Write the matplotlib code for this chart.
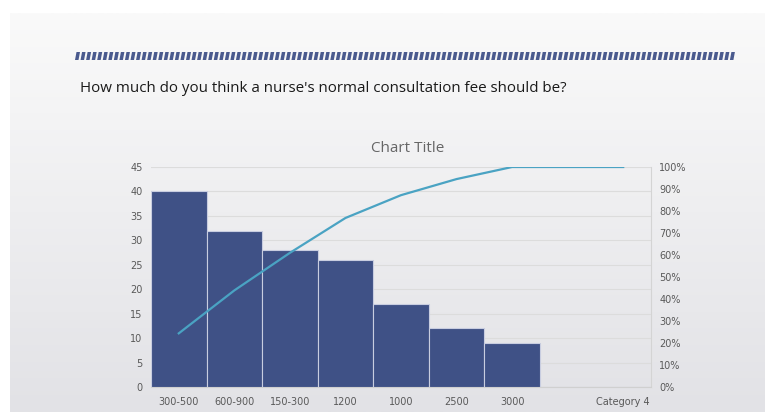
import numpy as np
import matplotlib
matplotlib.use("Agg")
import matplotlib.pyplot as plt
from matplotlib.patches import Polygon

categories = ["300-500", "600-900", "150-300", "1200", "1000", "2500", "3000", "", "Category 4"]
counts = [40, 32, 28, 26, 17, 12, 9, 0, 0]
left_ticks = [0, 5, 10, 15, 20, 25, 30, 35, 40, 45]
right_ticks = [0, 10, 20, 30, 40, 50, 60, 70, 80, 90, 100]
question = "How much do you think a nurse's normal consultation fee should be?"
chart_title = "Chart Title"

total = sum(counts)
cum_pct = list(np.cumsum(counts) / total * 100)

W, H = 765, 412
fig = plt.figure(figsize=(W / 100, H / 100), dpi=100)
fig.patch.set_facecolor("white")

# slide background gradient
bg = fig.add_axes([10 / W, 0, 1 - 10 / W, 1 - 13 / H])
bg.set_axis_off()
grad = np.linspace(0, 1, 256)[:, None]
top = np.array([250, 250, 250]) / 255
bot = np.array([226, 226, 230]) / 255
img = top[None, None, :] * (1 - grad[:, :, None]) + bot[None, None, :] * grad[:, :, None]
bg.imshow(img, aspect="auto", extent=[0, 1, 0, 1], origin="upper")
bg.set_xlim(0, 1)
bg.set_ylim(0, 1)

# decoration: slanted dash stripe
deco = fig.add_axes([0, 0, 1, 1])
deco.set_axis_off()
deco.set_xlim(0, W)
deco.set_ylim(H, 0)
x = 75.0
while x < 731:
    deco.add_patch(Polygon([[x + 1.5, 52], [x + 5.0, 52], [x + 3.5, 60], [x, 60]],
                           closed=True, facecolor="#4a5a8e", edgecolor="none"))
    x += 5.55
deco.text(80, 88, question, fontsize=10.9, family="Open Sans", color="#1a1a1a",
          va="center", ha="left")

ax = fig.add_axes([151 / W, 1 - 387 / H, 500 / W, 220 / H])
ax.set_facecolor("none")
xs = np.arange(len(categories))
ax.bar(xs, counts, width=1.0, color="#3f5186", edgecolor="#c8cde0", linewidth=0.8, zorder=3)
ax.set_xlim(-0.5, len(categories) - 0.5)
ax.set_ylim(0, 45)
ax.set_yticks(left_ticks)
ax.set_xticks(xs)
ax.set_xticklabels(categories)
ax.grid(axis="y", color="#dcdcdc", linewidth=0.8, zorder=0)
for s in ["top", "left"]:
    ax.spines[s].set_visible(False)
ax.spines["right"].set_color("#d4d4d4")
ax.spines["bottom"].set_color("#d0d0d0")
ax.tick_params(axis="both", length=0, labelsize=7, labelcolor="#595959", pad=6)
ax.tick_params(axis="x", pad=7)

ax2 = ax.twinx()
ax2.plot(xs, cum_pct, color="#4aa3c3", linewidth=1.6, zorder=4)
ax2.set_ylim(0, 100)
ax2.set_yticks(right_ticks)
ax2.set_yticklabels([f"{t}%" for t in right_ticks])
for s in ax2.spines.values():
    s.set_visible(False)
ax2.tick_params(axis="y", length=0, labelsize=7, labelcolor="#595959", pad=6)

fig.text(408 / W, 1 - 148 / H, chart_title, fontsize=11, color="#666666",
         ha="center", va="center", family="Open Sans")

fig.savefig("out.png", dpi=100)
